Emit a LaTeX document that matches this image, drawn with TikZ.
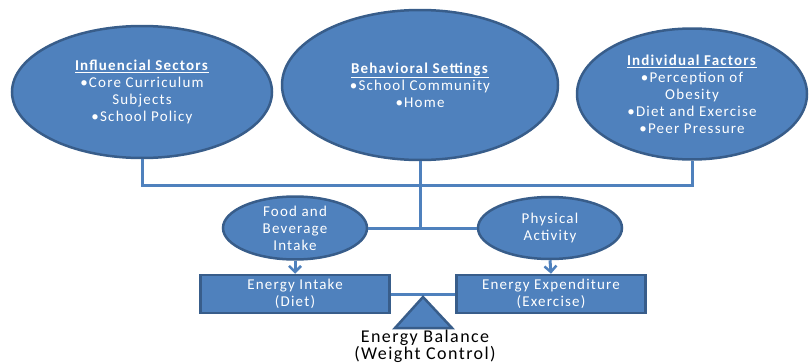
\documentclass[tikz,border=0pt]{standalone}
\usepackage{fontspec}
\setmainfont{Carlito}[LetterSpace=8]
\usetikzlibrary{arrows.meta, shapes.geometric}
\definecolor{ovalblue}{RGB}{79,129,189}
\definecolor{ovaledge}{RGB}{56,93,138}

\begin{document}
\begin{tikzpicture}[
    x=1pt, y=-1pt,
    font=\fontsize{15}{17}\selectfont,
    oval/.style={ellipse, draw=ovaledge, line width=2.5pt, fill=ovalblue,
                 text=white, align=center, inner sep=0pt},
    bigoval/.style={oval, minimum width=260pt, minimum height=132pt},
    smalloval/.style={oval, minimum width=144pt, minimum height=62pt},
    energybox/.style={rectangle, draw=ovaledge, line width=2.5pt, fill=ovalblue,
                      text=white, align=center, minimum width=189pt, minimum height=38pt},
    link/.style={draw=ovalblue, line width=3pt},
    arr/.style={link, -{Straight Barb[length=6pt, width=12pt, line width=2.5pt]}}
]
\useasboundingbox (0,0) rectangle (809,364);

% Top row: the three spheres of influence
\node[bigoval] (sectors) at (142,92)
  {\underline{\textbf{Influencial Sectors}}\\\textbullet Core Curriculum\\Subjects\\\textbullet School Policy};
\node[bigoval, minimum width=276pt, minimum height=150pt] (settings) at (420,85)
  {\underline{\textbf{Behavioral Settings}}\\\textbullet School Community\\\textbullet Home};
\node[bigoval, minimum width=230pt, minimum height=131pt] (factors) at (692,94)
  {\underline{\textbf{Individual Factors}}\\\textbullet Perception of\\Obesity\\\textbullet Diet and Exercise\\\textbullet Peer Pressure};

% Middle row: behaviours
\node[smalloval] (food) at (295,228) {Food and\\Beverage\\Intake};
\node[smalloval] (activity) at (550,228) {Physical\\Activity};

% Bottom row: the two sides of the balance
\node[energybox] (intake) at (295,294) {Energy Intake\\(Diet)};
\node[energybox] (expend) at (551,294) {Energy Expenditure\\(Exercise)};

% Joining lines
\coordinate (join) at (420,185);
\coordinate (fork) at (420,228);
\draw[link] (sectors.south) |- (join) -| (factors.south);
\draw[link] (settings.south) -- (fork);
\draw[link] (food.east) -- (activity.west);
\draw[arr] (food.south) -- (intake.north);
\draw[arr] (activity.south) -- (expend.north);

% Beam and fulcrum
\draw[link] (intake.east) -- (expend.west);
\coordinate (apex) at (423,297);
\draw[draw=ovaledge, line width=2.5pt, fill=ovalblue, line join=miter]
  (apex) -- (452,328) -- (395,328) -- cycle;
\node[align=center, inner sep=0pt, font=\fontsize{18}{15.5}\selectfont, anchor=north] (balance)
  at (425,330) {Energy Balance\\(Weight Control)};
\end{tikzpicture}
\end{document}
